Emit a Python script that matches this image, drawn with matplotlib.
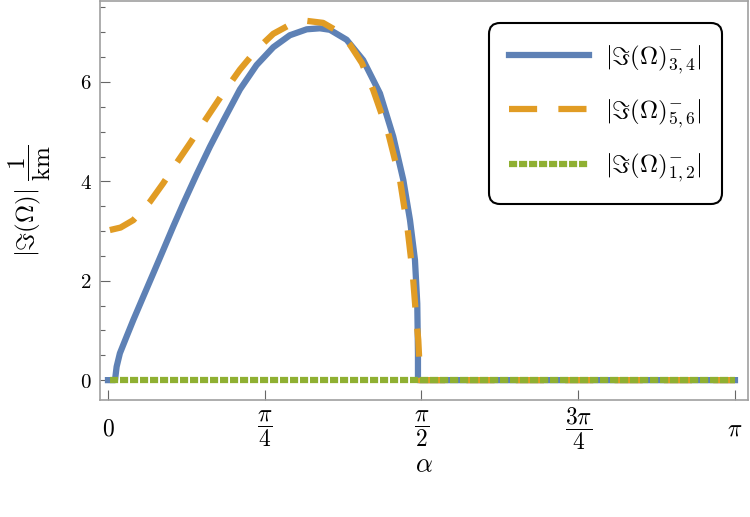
import numpy as np
import matplotlib.pyplot as plt
from matplotlib.ticker import FixedLocator, FixedFormatter, MultipleLocator

plt.rcParams['mathtext.fontset'] = 'cm'
plt.rcParams['font.family'] = 'DejaVu Serif'

# alpha in units of pi
alpha_34 = [0.0, 0.0112, 0.0138, 0.019, 0.0298, 0.0404, 0.0563, 0.0723, 0.0882, 0.104,
            0.120, 0.1414, 0.1627, 0.184, 0.2105, 0.237, 0.2637, 0.290, 0.317, 0.338,
            0.354, 0.3806, 0.407, 0.4338, 0.455, 0.471, 0.4817, 0.4896, 0.4933, 0.4944,
            0.4944, 1.0]
im_34 = [0.0, 0.0, 0.27, 0.54, 0.88, 1.21, 1.68, 2.15, 2.62, 3.09,
         3.55, 4.14, 4.70, 5.22, 5.85, 6.34, 6.70, 6.94, 7.06, 7.08,
         7.05, 6.85, 6.44, 5.77, 4.90, 4.03, 3.22, 2.42, 1.54, 0.54,
         0.0, 0.0]

alpha_56 = [0.003, 0.02, 0.0404, 0.067, 0.088, 0.110, 0.131, 0.157, 0.184, 0.2105,
            0.237, 0.2637, 0.290, 0.317, 0.343, 0.365, 0.386, 0.405, 0.423, 0.447,
            0.4657, 0.4774, 0.486, 0.491, 0.4949, 0.4965, 0.4965, 1.0]
im_56 = [3.02, 3.07, 3.22, 3.59, 3.96, 4.38, 4.77, 5.27, 5.78, 6.25,
         6.65, 6.97, 7.15, 7.23, 7.19, 7.03, 6.75, 6.38, 5.84, 4.97,
         4.03, 3.09, 2.15, 1.34, 0.81, 0.40, 0.0, 0.0]

alpha_12 = [0.003, 1.0]
im_12 = [0.0, 0.0]

xtick_vals = [0, 0.25, 0.5, 0.75, 1.0]
xtick_labels = [r'$0$', r'$\dfrac{\pi}{4}$', r'$\dfrac{\pi}{2}$', r'$\dfrac{3\pi}{4}$', r'$\pi$']
ytick_vals = [0, 2, 4, 6]

blue, orange, green = '#5E81B5', '#E19C24', '#8FB032'
lw = 4.5

fig = plt.figure(figsize=(7.5, 5.17), dpi=100)
ax = fig.add_axes([0.1333, 0.2263, 0.864, 0.7718])

ax.plot(np.array(alpha_34) * np.pi, im_34, color=blue, lw=lw, solid_joinstyle='round',
        label=r'$|\Im(\Omega)^{-}_{3,4}|$')
ax.plot(np.array(alpha_56) * np.pi, im_56, color=orange, lw=lw, dashes=(4.5, 3.4),
        dash_capstyle='butt', label=r'$|\Im(\Omega)^{-}_{5,6}|$')
ax.plot(np.array(alpha_12) * np.pi, im_12, color=green, lw=lw, dashes=(1.3, 0.3),
        dash_capstyle='butt', label=r'$|\Im(\Omega)^{-}_{1,2}|$')

ax.set_xlim(-8 / 627 * np.pi, np.pi * (1 + 13 / 627))
ax.set_ylim(-0.40, 7.63)

ax.xaxis.set_major_locator(FixedLocator(np.array(xtick_vals) * np.pi))
ax.xaxis.set_major_formatter(FixedFormatter(xtick_labels))
ax.yaxis.set_major_locator(FixedLocator(ytick_vals))
ax.yaxis.set_major_formatter(FixedFormatter([f'${v}$' for v in ytick_vals]))
ax.yaxis.set_minor_locator(MultipleLocator(0.5))

for s in ax.spines.values():
    s.set_color('#a0a0a0')
    s.set_linewidth(1.2)

ax.tick_params(which='both', direction='in', color='#666666', width=0.8, labelsize=15)
ax.tick_params(which='major', length=7)
ax.tick_params(which='minor', length=3.6)
ax.tick_params(axis='x', pad=21, labelsize=17)
ax.tick_params(axis='y', pad=6)
for lbl in ax.get_xticklabels():
    lbl.set_va('center')

ax.set_xlabel(r'$\alpha$', fontsize=19)
ax.xaxis.label.set_va('center')
ax.xaxis.set_label_coords(0.5, -0.163)
ax.set_ylabel(r'$|\Im(\Omega)|\ \dfrac{1}{\mathrm{km}}$', fontsize=18)
ax.yaxis.label.set_va('center')
ax.yaxis.set_label_coords(-0.108, 0.5)

leg = ax.legend(loc='upper right', bbox_to_anchor=(0.960, 0.945), borderaxespad=0,
                fontsize=18, handlelength=3.2, labelspacing=0.85, borderpad=0.8,
                handletextpad=0.65, fancybox=True, framealpha=1, edgecolor='black')
leg.get_frame().set_linewidth(1.5)
leg.get_frame().set_boxstyle('round,pad=0,rounding_size=0.45')

plt.savefig('out.png', dpi=100)
